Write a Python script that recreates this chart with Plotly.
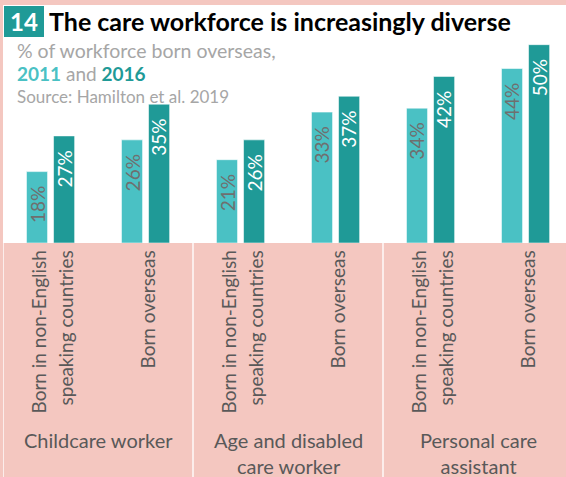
import plotly.graph_objects as go

# ---- data -------------------------------------------------------------
occupations = ["Childcare worker", "Age and disabled<br>care worker", "Personal care<br>assistant"]
measures = [
    ["Born in non-English", "speaking countries"], ["Born overseas"],
    ["Born in non-English", "speaking countries"], ["Born overseas"],
    ["Born in non-English", "speaking countries"], ["Born overseas"],
]
share_2011 = [18, 26, 21, 33, 34, 44]
share_2016 = [27, 35, 26, 37, 42, 50]
years = ["2011", "2016"]

# ---- styling ----------------------------------------------------------
FONT = "Lato"
LIGHT = "#4AC1C4"
DARK = "#1F9A97"
PINK = "#F4C7C0"
GREY_TXT = "#595959"
SUB_GREY = "#A6A6A6"

W, H = 566, 477
M_L, M_R, M_T, M_B = 3, 0, 5, 234
PW, PH = W - M_L - M_R, H - M_T - M_B


def px_x(p):
    """pixel column -> paper x"""
    return (p - M_L) / PW


def px_y(p):
    """pixel row -> paper y"""
    return (H - M_B - p) / PH


BAR_W = 0.222
OFFSETS = [-0.253, 0.032]

x = list(range(len(share_2011)))

fig = go.Figure()
for yr, vals, col, off in zip(years, [share_2011, share_2016], [LIGHT, DARK], OFFSETS):
    fig.add_trace(go.Bar(
        x=x, y=vals, name=yr, width=BAR_W, offset=off,
        marker=dict(color=col, line=dict(color="rgba(255,255,255,0.55)", width=1)),
        hoverinfo="skip", showlegend=False,
    ))

annotations = []

# value labels inside the bars, rotated
for vals, off, tcol in zip([share_2011, share_2016], OFFSETS, ["#6F6F6F", "white"]):
    for i, v in enumerate(vals):
        annotations.append(dict(
            x=i + off + BAR_W / 2, y=v, xref="x", yref="y",
            text=f"{v}%", textangle=-90, showarrow=False,
            xanchor="center", yanchor="top", yshift=-13,
            font=dict(family=FONT, size=19, color=tcol),
        ))

# sub-category labels (rotated, end-aligned near the axis)
LINE_STEP = 27
for i, lines in enumerate(measures):
    n = len(lines)
    for j, line in enumerate(lines):
        shift = (j - (n - 1) / 2) * LINE_STEP + 1
        annotations.append(dict(
            x=i, y=px_y(249), xref="x", yref="paper",
            text=line, textangle=-90, showarrow=False,
            xanchor="center", yanchor="top", xshift=shift,
            font=dict(family=FONT, size=19, color=GREY_TXT),
        ))

# occupation group labels
for g, name in enumerate(occupations):
    annotations.append(dict(
        x=2 * g + 0.5, y=px_y(426), xref="x", yref="paper",
        text=name, showarrow=False, xanchor="center", yanchor="top",
        align="center",
        font=dict(family=FONT, size=20, color=GREY_TXT),
    ))

# header
annotations += [
    dict(x=px_x(24), y=px_y(21.5), xref="paper", yref="paper", text="<b>14</b>",
         showarrow=False, xanchor="center", yanchor="middle",
         font=dict(family=FONT, size=24, color="white")),
    dict(x=px_x(47), y=px_y(21.5), xref="paper", yref="paper",
         text="<b>The care workforce is increasingly diverse</b>",
         showarrow=False, xanchor="left", yanchor="middle",
         font=dict(family=FONT, size=25, color="black")),
    dict(x=px_x(15), y=px_y(50), xref="paper", yref="paper",
         text="% of workforce born overseas,",
         showarrow=False, xanchor="left", yanchor="middle",
         font=dict(family=FONT, size=19.5, color=SUB_GREY)),
    dict(x=px_x(15), y=px_y(74), xref="paper", yref="paper",
         text=f"<span style='color:{LIGHT}'><b>2011</b></span> and "
              f"<span style='color:{DARK}'><b>2016</b></span>",
         showarrow=False, xanchor="left", yanchor="middle",
         font=dict(family=FONT, size=19, color=SUB_GREY)),
    dict(x=px_x(15), y=px_y(97), xref="paper", yref="paper",
         text="Source: Hamilton et al. 2019",
         showarrow=False, xanchor="left", yanchor="middle",
         font=dict(family=FONT, size=17, color=SUB_GREY)),
]

shapes = [
    # numbered badge
    dict(type="rect", xref="paper", yref="paper",
         x0=px_x(4), x1=px_x(44), y0=px_y(37), y1=px_y(6),
         fillcolor=DARK, line=dict(width=0), layer="below"),
]
# white dividers through the category band
for xv in [-0.5, 1.5, 3.5]:
    shapes.append(dict(type="line", xref="x", yref="paper",
                       x0=xv, x1=xv, y0=0, y1=px_y(H),
                       line=dict(color="rgba(255,255,255,0.9)", width=1.5)))

fig.update_layout(
    width=W, height=H,
    margin=dict(l=M_L, r=M_R, t=M_T, b=M_B, pad=0),
    paper_bgcolor=PINK, plot_bgcolor="white",
    barmode="overlay",
    xaxis=dict(range=[-0.5, -0.5 + PW / 95], showticklabels=False, showgrid=False,
               zeroline=False, ticks="", fixedrange=True),
    yaxis=dict(range=[0, 60], showticklabels=False, showgrid=False,
               zeroline=False, ticks="", fixedrange=True),
    annotations=annotations,
    shapes=shapes,
)

fig.write_html("out.html")
